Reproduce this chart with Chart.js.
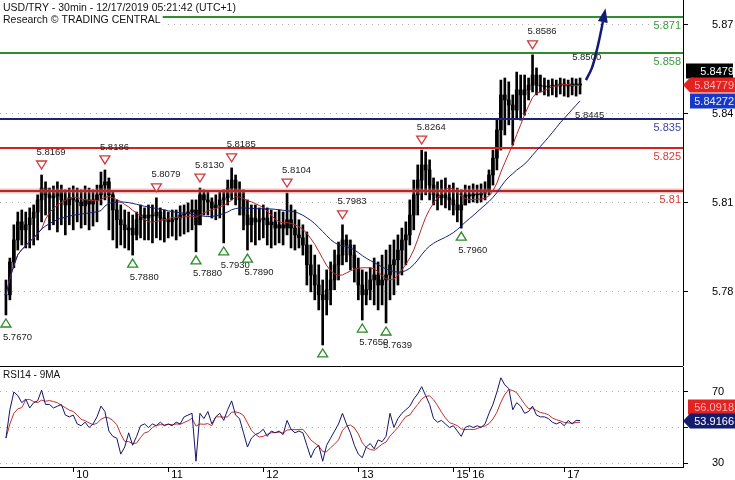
<!DOCTYPE html>
<html>
<head>
<meta charset="utf-8">
<script src="https://cdn.jsdelivr.net/npm/chart.js@4.4.1/dist/chart.umd.min.js"></script>
<style>
  body { margin: 0; background: #fff; }
  #wrap { position: relative; width: 735px; height: 480px; }
  #priceChart { position: absolute; left: 0; top: 0; }
  #rsiChart { position: absolute; left: 0; top: 366px; }
</style>
</head>
<body>
<div id="wrap">
  <canvas id="priceChart" width="735" height="366"></canvas>
  <canvas id="rsiChart" width="735" height="114"></canvas>
</div>
<script>
const titleText = 'USD/TRY - 30min - 12/17/2019 05:21:42 (UTC+1)';
const sourceText = 'Research \u00a9 TRADING CENTRAL';
const rsiTitle = 'RSI14 - 9MA';

// one bar per hour, x axis counts 30-min slots
const firstSlot = 3;
const slotStep = 2;

const highs = [
  5.7840, 5.7914, 5.8026, 5.8069, 5.8076, 5.8069, 5.8083, 5.8093, 5.8127, 5.8194,
  5.8171, 5.8150, 5.8157, 5.8171, 5.8160, 5.8144, 5.8150, 5.8157, 5.8150, 5.8144,
  5.8157, 5.8150, 5.8144, 5.8160, 5.8204, 5.8211, 5.8184, 5.8137, 5.8110, 5.8093,
  5.8076, 5.8069, 5.8059, 5.8069, 5.8093, 5.8083, 5.8093, 5.8093, 5.8117, 5.8083,
  5.8076, 5.8069, 5.8076, 5.8076, 5.8090, 5.8093, 5.8100, 5.8110, 5.8110, 5.8150,
  5.8144, 5.8137, 5.8117, 5.8127, 5.8137, 5.8144, 5.8177, 5.8218, 5.8194, 5.8171,
  5.8144, 5.8110, 5.8093, 5.8093, 5.8083, 5.8093, 5.8083, 5.8076, 5.8069, 5.8076,
  5.8069, 5.8133, 5.8093, 5.8076, 5.8043, 5.8026, 5.8002, 5.7958, 5.7924, 5.7891,
  5.7840, 5.7874, 5.7901, 5.7941, 5.7968, 5.8026, 5.7992, 5.7975, 5.7958, 5.7914,
  5.7874, 5.7867, 5.7881, 5.7914, 5.7901, 5.7924, 5.7941, 5.7958, 5.7975, 5.7992,
  5.8015, 5.8036, 5.8110, 5.8177, 5.8228, 5.8278, 5.8272, 5.8245, 5.8184, 5.8171,
  5.8177, 5.8184, 5.8160, 5.8167, 5.8150, 5.8144, 5.8160, 5.8157, 5.8164, 5.8160,
  5.8164, 5.8171, 5.8211, 5.8278, 5.8379, 5.8514, 5.8521, 5.8508, 5.8464, 5.8541,
  5.8531, 5.8531, 5.8521, 5.8599, 5.8555, 5.8531, 5.8521, 5.8514, 5.8518, 5.8514,
  5.8521, 5.8518, 5.8514, 5.8521, 5.8518, 5.8521
];
const lows = [
  5.7722, 5.7773, 5.7881, 5.7941, 5.7958, 5.7948, 5.7948, 5.7958, 5.7975, 5.8036,
  5.8059, 5.8009, 5.8026, 5.8002, 5.8026, 5.7992, 5.8026, 5.8009, 5.8036, 5.8015,
  5.8026, 5.8009, 5.8022, 5.8036, 5.8093, 5.8110, 5.8009, 5.7975, 5.7948, 5.7958,
  5.7948, 5.7941, 5.7924, 5.7975, 5.7982, 5.7975, 5.7975, 5.7965, 5.7982, 5.7975,
  5.7968, 5.7982, 5.7988, 5.7975, 5.7988, 5.7995, 5.8002, 5.8009, 5.7935, 5.8026,
  5.8059, 5.8059, 5.8049, 5.8043, 5.8049, 5.7965, 5.8093, 5.8110, 5.8093, 5.8059,
  5.8009, 5.7941, 5.7968, 5.7958, 5.7975, 5.7982, 5.7958, 5.7948, 5.7958, 5.7965,
  5.7958, 5.7992, 5.7948, 5.7941, 5.7948, 5.7924, 5.7823, 5.7800, 5.7773, 5.7739,
  5.7621, 5.7722, 5.7756, 5.7807, 5.7840, 5.7891, 5.7901, 5.7874, 5.7833, 5.7773,
  5.7705, 5.7756, 5.7773, 5.7756, 5.7739, 5.7756, 5.7695, 5.7773, 5.7790, 5.7823,
  5.7857, 5.7891, 5.7958, 5.8009, 5.8059, 5.8110, 5.8127, 5.8110, 5.8093, 5.8076,
  5.8093, 5.8083, 5.8076, 5.8059, 5.8036, 5.8015, 5.8093, 5.8100, 5.8103, 5.8100,
  5.8103, 5.8110, 5.8127, 5.8160, 5.8211, 5.8278, 5.8329, 5.8363, 5.8295, 5.8386,
  5.8379, 5.8396, 5.8447, 5.8474, 5.8464, 5.8474, 5.8464, 5.8460, 5.8464, 5.8457,
  5.8467, 5.8460, 5.8457, 5.8464, 5.8460, 5.8467
];
const closes = [
  5.7790, 5.7901, 5.7975, 5.8036, 5.8009, 5.8026, 5.8049, 5.8069, 5.8110, 5.8150,
  5.8127, 5.8117, 5.8123, 5.8137, 5.8110, 5.8093, 5.8117, 5.8110, 5.8103, 5.8090,
  5.8110, 5.8096, 5.8110, 5.8127, 5.8160, 5.8171, 5.8127, 5.8076, 5.8043, 5.8026,
  5.8009, 5.8015, 5.7992, 5.8043, 5.8059, 5.8049, 5.8059, 5.8056, 5.8069, 5.8049,
  5.8043, 5.8036, 5.8043, 5.8049, 5.8059, 5.8063, 5.8069, 5.8076, 5.8026, 5.8127,
  5.8110, 5.8103, 5.8083, 5.8093, 5.8110, 5.8117, 5.8150, 5.8177, 5.8144, 5.8110,
  5.8059, 5.8026, 5.8049, 5.8036, 5.8043, 5.8049, 5.8026, 5.8036, 5.8015, 5.8026,
  5.8015, 5.8043, 5.8015, 5.7992, 5.7982, 5.7958, 5.7891, 5.7857, 5.7823, 5.7790,
  5.7773, 5.7807, 5.7840, 5.7891, 5.7924, 5.7975, 5.7958, 5.7924, 5.7881, 5.7823,
  5.7790, 5.7807, 5.7840, 5.7857, 5.7823, 5.7840, 5.7857, 5.7891, 5.7908, 5.7941,
  5.7975, 5.7992, 5.8059, 5.8127, 5.8177, 5.8228, 5.8211, 5.8160, 5.8127, 5.8117,
  5.8127, 5.8117, 5.8110, 5.8093, 5.8076, 5.8093, 5.8127, 5.8123, 5.8130, 5.8127,
  5.8133, 5.8144, 5.8194, 5.8251, 5.8346, 5.8464, 5.8447, 5.8430, 5.8413, 5.8481,
  5.8464, 5.8481, 5.8497, 5.8531, 5.8497, 5.8494, 5.8491, 5.8494, 5.8497, 5.8494,
  5.8501, 5.8497, 5.8494, 5.8501, 5.8497, 5.8501
];
const rsiValues = [
  44, 60, 70, 68, 64, 66, 61, 64, 65, 71,
  63, 63, 61, 62, 63, 57, 56, 57, 52, 51,
  53, 50, 52, 56, 62, 59, 48, 45, 44, 35,
  39, 47, 40, 45, 51, 52, 50, 52, 51, 53,
  51, 52, 51, 53, 52, 56, 57, 58, 31, 58,
  55, 59, 52, 56, 58, 54, 60, 65, 57, 55,
  47, 39, 44, 46, 47, 49, 45, 48, 47, 48,
  46, 54, 49, 47, 48, 47, 40, 33, 38, 40,
  31, 40, 44, 48, 52, 58, 52, 47, 40, 35,
  33, 39, 41, 38, 43, 42, 45, 58, 50, 55,
  58, 60, 62, 66, 69, 73, 68, 63, 55, 53,
  54, 52, 50, 51, 48, 45, 50, 51, 50, 51,
  50, 52, 58, 63, 70, 78, 74, 72, 60, 64,
  62, 58, 59, 62, 57, 56, 56, 55, 53, 52,
  53, 51, 54, 52, 54, 53.9
];

const dayTicks = [37, 85, 133, 181, 229, 237, 285];
const dayLabels = ['10', '11', '12', '13', '15', '16', '17'];
const priceTicks = [5.78, 5.81, 5.84, 5.87];
const rsiTicks = [30, 50, 70];

// support / resistance lines
const levels = [5.8727, 5.8605, 5.8383, 5.8285, 5.8140];
const levelLabels = ['5.871', '5.858', '5.835', '5.825', '5.81'];
const levelColors = ['#2f8f2f', '#2f8f2f', '#1c2378', '#d42020', '#b3282a'];

// marked swing highs / lows (bar index + printed value)
const peakBars = [9, 25, 38, 49, 57, 71, 85, 105, 133];
const peakLabels = ['5.8169', '5.8186', '5.8079', '5.8130', '5.8185', '5.8104', '5.7983', '5.8264', '5.8586'];
const troughBars = [0, 32, 48, 55, 61, 80, 90, 96, 115];
const troughLabels = ['5.7670', '5.7880', '5.7880', '5.7930', '5.7890', '', '5.7650', '5.7639', '5.7960'];

const noteTexts = ['5.8500', '5.8445'];
const noteSlots = [289, 290.5];
const notePrices = [5.8589, 5.8396];

// projected path
const forecastSlots = [296, 299, 301.5, 303.5, 304.5];
const forecastPrices = [5.8514, 5.8555, 5.8616, 5.8676, 5.8710];

const lastPriceText = '5.8479';
const fastMaText = '5.84779';
const slowMaText = '5.84272';
const rsiText = '53.9166';
const rsiMaText = '56.0918';

const slots = closes.map((c, i) => firstSlot + i * slotStep);
// fx bars open at the previous close
const opens = closes.map((c, i) => i === 0 ? c : closes[i - 1]);

function sma(values, n) {
  return values.map((v, i) => {
    const part = values.slice(Math.max(0, i - n + 1), i + 1);
    return part.reduce((a, b) => a + b, 0) / part.length;
  });
}
const fastMa = sma(closes, 10);
const slowMa = sma(closes, 25);
const rsiMa = sma(rsiValues, 5);

const FONT = '"Liberation Sans", Arial, sans-serif';

function tag(ctx, x, y, w, text, bg, fg, arrow) {
  ctx.save();
  ctx.fillStyle = bg;
  ctx.beginPath();
  if (arrow) {
    ctx.moveTo(x, y);
    ctx.lineTo(x + 7, y - 7.5);
    ctx.lineTo(x + w, y - 7.5);
    ctx.lineTo(x + w, y + 7.5);
    ctx.lineTo(x + 7, y + 7.5);
  } else {
    ctx.rect(x, y - 7.5, w, 15);
  }
  ctx.closePath();
  ctx.fill();
  ctx.fillStyle = fg;
  ctx.font = '11px ' + FONT;
  ctx.textAlign = 'right';
  ctx.textBaseline = 'middle';
  ctx.fillText(text, 734, y + 1);
  ctx.restore();
}

function triangle(ctx, x, y, down, color) {
  ctx.beginPath();
  if (down) {
    ctx.moveTo(x - 5, y - 4); ctx.lineTo(x + 5, y - 4); ctx.lineTo(x, y + 4);
  } else {
    ctx.moveTo(x - 5, y + 4); ctx.lineTo(x + 5, y + 4); ctx.lineTo(x, y - 4);
  }
  ctx.closePath();
  ctx.fillStyle = '#fff';
  ctx.fill();
  ctx.strokeStyle = color;
  ctx.lineWidth = 1.3;
  ctx.stroke();
}

// stop Chart.js from reserving room for half tick labels
function fixWidth(s) {
  s.width = 52;
  s.paddingTop = 0;
  s.paddingBottom = 0;
}

const priceMarks = {
  id: 'priceMarks',
  afterDatasetDraw(chart, args) {
    if (args.index !== 1) return;
    const { ctx, chartArea: a, scales: { y } } = chart;
    ctx.save();
    levels.forEach((v, k) => {
      const py = Math.round(y.getPixelForValue(v));
      if (k === 4) {
        ctx.strokeStyle = 'rgba(225,120,120,0.45)';
        ctx.lineWidth = 5;
        ctx.beginPath(); ctx.moveTo(a.left, py); ctx.lineTo(a.right, py); ctx.stroke();
      }
      ctx.strokeStyle = levelColors[k];
      ctx.lineWidth = 2;
      ctx.beginPath(); ctx.moveTo(a.left, py); ctx.lineTo(a.right, py); ctx.stroke();
      ctx.font = '11px ' + FONT;
      ctx.textAlign = 'right';
      ctx.textBaseline = 'middle';
      ctx.fillStyle = k < 2 ? '#3c9a3c' : (k === 2 ? '#3a46a8' : '#d83a3a');
      ctx.fillText(levelLabels[k], a.right - 2, py + 9);
    });
    ctx.restore();
  },
  afterDatasetsDraw(chart) {
    const { ctx, scales: { x, y } } = chart;
    ctx.save();
    ctx.font = '9.5px ' + FONT;
    ctx.textBaseline = 'middle';
    ctx.textAlign = 'left';
    peakBars.forEach((b, k) => {
      const px = x.getPixelForValue(slots[b]);
      const py = y.getPixelForValue(highs[b]) - 10;
      triangle(ctx, px, py, true, '#d03a3a');
      ctx.fillStyle = '#222';
      ctx.fillText(peakLabels[k], px - 5, py - 13);
    });
    troughBars.forEach((b, k) => {
      const px = x.getPixelForValue(slots[b]);
      const py = y.getPixelForValue(lows[b]) + 8;
      triangle(ctx, px, py, false, '#2c8a2c');
      ctx.fillStyle = '#222';
      ctx.fillText(troughLabels[k], px - 3, py + 14);
    });
    noteTexts.forEach((t, k) => {
      ctx.fillStyle = '#222';
      ctx.fillText(t, x.getPixelForValue(noteSlots[k]), y.getPixelForValue(notePrices[k]));
    });
    // arrow head on projected path
    const n = forecastSlots.length;
    const x1 = x.getPixelForValue(forecastSlots[n - 2]), y1 = y.getPixelForValue(forecastPrices[n - 2]);
    const x2 = x.getPixelForValue(forecastSlots[n - 1]), y2 = y.getPixelForValue(forecastPrices[n - 1]);
    const len = Math.hypot(x2 - x1, y2 - y1);
    const dx = (x2 - x1) / len, dy = (y2 - y1) / len;
    ctx.fillStyle = '#141a78';
    ctx.beginPath();
    ctx.moveTo(x2 + dx * 14, y2 + dy * 14);
    ctx.lineTo(x2 - dy * 5, y2 + dx * 5);
    ctx.lineTo(x2 + dy * 5, y2 - dx * 5);
    ctx.closePath();
    ctx.fill();
    ctx.restore();
  },
  afterDraw(chart) {
    const { ctx, scales: { y } } = chart;
    ctx.save();
    ctx.font = '10.5px ' + FONT;
    ctx.textBaseline = 'alphabetic';
    ctx.textAlign = 'left';
    ctx.fillStyle = '#fff';
    ctx.fillRect(0, 0, ctx.measureText(titleText).width + 5, 13);
    ctx.fillRect(0, 13, ctx.measureText(sourceText).width + 5, 14);
    ctx.fillStyle = '#111';
    ctx.fillText(titleText, 3, 11);
    ctx.fillText(sourceText, 3, 23);
    ctx.restore();

    const redY = Math.round(y.getPixelForValue(fastMa[fastMa.length - 1]));
    const blueY = Math.max(redY + 15, Math.round(y.getPixelForValue(slowMa[slowMa.length - 1])));
    tag(ctx, 686, redY - 14, 47, lastPriceText, '#000', '#fff', false);
    tag(ctx, 683, redY, 52, fastMaText, '#e32222', '#ffb4b4', true);
    tag(ctx, 690, blueY, 45, slowMaText, '#1538c8', '#e8ecff', false);
  }
};

const rsiMarks = {
  id: 'rsiMarks',
  afterDraw(chart) {
    const { ctx, chartArea: a, scales: { y } } = chart;
    ctx.save();
    ctx.strokeStyle = '#000';
    ctx.lineWidth = 1;
    ctx.beginPath(); ctx.moveTo(0, a.top - 0.5); ctx.lineTo(a.right, a.top - 0.5); ctx.stroke();
    ctx.font = '10px ' + FONT;
    ctx.fillStyle = '#111';
    ctx.textBaseline = 'middle';
    ctx.fillText(rsiTitle, 3, a.top + 8);
    ctx.restore();
    const blueY = Math.round(y.getPixelForValue(rsiValues[rsiValues.length - 1]));
    tag(ctx, 688, blueY - 14, 47, rsiMaText, '#e32222', '#ffb4b4', false);
    tag(ctx, 683, blueY, 52, rsiText, '#141c6e', '#fff', true);
  }
};

const tickFont = { family: FONT, size: 11 };

new Chart(document.getElementById('priceChart'), {
  type: 'bar',
  data: {
    datasets: [
      {
        label: 'high-low',
        data: slots.map((s, i) => ({ x: s, y: [lows[i], highs[i]] })),
        backgroundColor: '#000',
        barThickness: 2,
        grouped: false,
        borderWidth: 0,
        order: 6
      },
      {
        label: 'open-close',
        data: slots.map((s, i) => ({ x: s, y: [Math.min(opens[i], closes[i]), Math.max(opens[i], closes[i])] })),
        backgroundColor: '#000',
        barThickness: 3,
        grouped: false,
        borderWidth: 0,
        order: 5
      },
      {
        type: 'line',
        label: 'MA fast',
        data: slots.map((s, i) => ({ x: s, y: fastMa[i] })),
        borderColor: '#b4282a',
        borderWidth: 1,
        pointRadius: 0,
        order: 3
      },
      {
        type: 'line',
        label: 'MA slow',
        data: slots.map((s, i) => ({ x: s, y: slowMa[i] })),
        borderColor: '#17207a',
        borderWidth: 1,
        pointRadius: 0,
        order: 2
      },
      {
        type: 'line',
        label: 'Projection',
        data: forecastSlots.map((s, i) => ({ x: s, y: forecastPrices[i] })),
        borderColor: '#141a78',
        borderWidth: 2.5,
        pointRadius: 0,
        tension: 0.35,
        order: 1
      }
    ]
  },
  options: {
    responsive: false,
    animation: false,
    events: [],
    layout: { padding: 0 },
    plugins: { legend: { display: false }, tooltip: { enabled: false } },
    scales: {
      x: { type: 'linear', min: 0, max: 345, offset: false, display: false },
      y: {
        position: 'right',
        min: 5.7550,
        max: 5.8784,
        afterFit: fixWidth,
        afterBuildTicks: s => { s.ticks = priceTicks.map(v => ({ value: v })); },
        ticks: { font: tickFont, color: '#000', padding: 24, callback: v => v.toFixed(2) },
        grid: { color: '#b0b0b0', tickColor: '#000', tickLength: 5 },
        border: { display: true, color: '#000', width: 1, dash: [1, 5] }
      }
    }
  },
  plugins: [priceMarks]
});

new Chart(document.getElementById('rsiChart'), {
  type: 'line',
  data: {
    datasets: [
      {
        label: 'RSI14',
        data: slots.map((s, i) => ({ x: s, y: rsiValues[i] })),
        borderColor: '#15156a',
        borderWidth: 1,
        pointRadius: 0
      },
      {
        label: '9MA',
        data: slots.map((s, i) => ({ x: s, y: rsiMa[i] })),
        borderColor: '#c0302c',
        borderWidth: 1,
        pointRadius: 0
      }
    ]
  },
  options: {
    responsive: false,
    animation: false,
    events: [],
    layout: { padding: { top: 1 } },
    plugins: { legend: { display: false }, tooltip: { enabled: false } },
    scales: {
      x: {
        type: 'linear',
        min: 0,
        max: 345,
        offset: false,
        afterFit: s => { s.height = 13; s.paddingLeft = 0; s.paddingRight = 0; },
        afterBuildTicks: s => { s.ticks = dayTicks.map(v => ({ value: v })); },
        ticks: {
          font: tickFont, color: '#000', padding: -4, align: 'start', maxRotation: 0,
          autoSkip: false,
          callback: (v, i) => ' ' + dayLabels[i]
        },
        grid: { drawOnChartArea: false, tickColor: '#000', tickLength: 5 },
        border: { display: true, color: '#000' }
      },
      y: {
        position: 'right',
        min: 27.75,
        max: 84.08,
        afterFit: fixWidth,
        afterBuildTicks: s => { s.ticks = rsiTicks.map(v => ({ value: v })); },
        // the 50 label sits under the RSI value tag
        ticks: { font: tickFont, color: '#000', padding: 24, callback: v => v === 50 ? '' : v },
        grid: { color: '#b0b0b0', tickColor: '#000', tickLength: 5 },
        border: { display: true, color: '#000', width: 1, dash: [1, 5] }
      }
    }
  },
  plugins: [rsiMarks]
});
</script>
</body>
</html>
